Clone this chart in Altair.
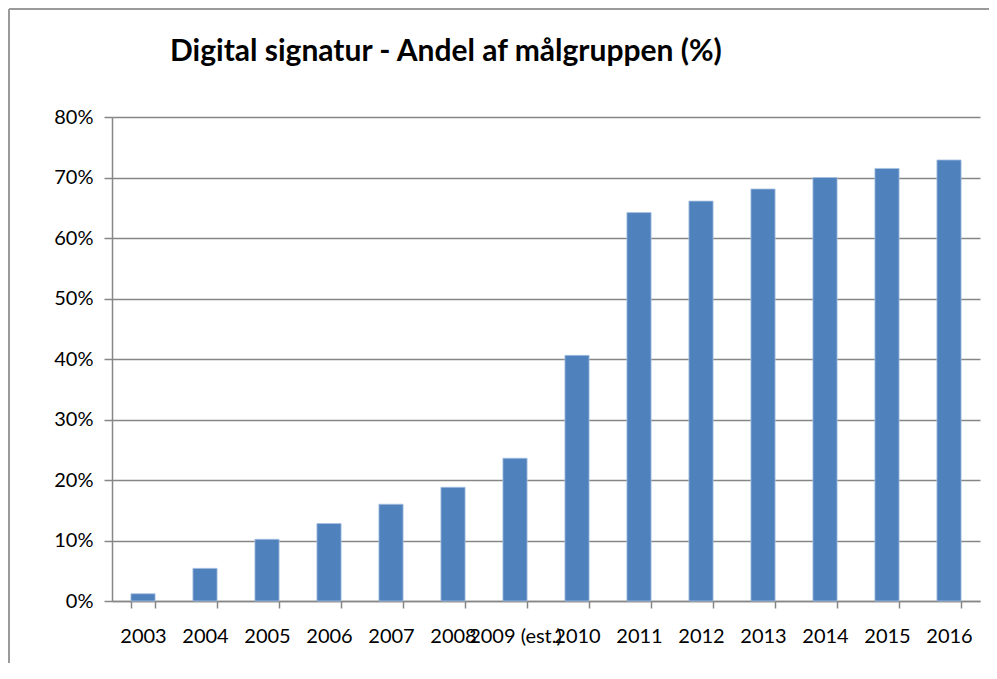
import altair as alt
import pandas as pd

years = ["2003", "2004", "2005", "2006", "2007", "2008", "2009 (est.)",
         "2010", "2011", "2012", "2013", "2014", "2015", "2016"]
shares = [1.2, 5.4, 10.2, 12.8, 16.0, 18.8, 23.6, 40.6, 64.2, 66.1, 68.1, 70.0, 71.5, 72.9]
y_ticks = [0, 10, 20, 30, 40, 50, 60, 70, 80]
title_text = "Digital signatur - Andel af målgruppen (%)"

df = pd.DataFrame({"year": years, "share": [v / 100 for v in shares]})

W, H = 868, 484
PAD_L, PAD_T, PAD_R, PAD_B = 104, 109, 9, 62
FONT = "Lato"
GRID = "#868686"

bars = alt.Chart(df).mark_bar(color="#4F81BD", stroke="#a9c1e2", strokeWidth=0.8).encode(
    x=alt.X(
        "year:N", sort=years, title=None,
        scale=alt.Scale(paddingInner=0.61, paddingOuter=0.305),
        axis=alt.Axis(labelAngle=0, tickBand="extent", tickSize=7, labelPadding=18,
                      domainColor=GRID, tickColor=GRID, domainWidth=1.5, tickWidth=1.5,
                      labelFontSize=20, labelFont=FONT, labelColor="#000",
                      labelOverlap=False, grid=False),
    ),
    y=alt.Y(
        "share:Q", title=None,
        scale=alt.Scale(domain=[0, 0.8], nice=False),
        axis=alt.Axis(format=".0%", values=[v / 100 for v in y_ticks], grid=True,
                      gridColor=GRID, gridWidth=1.5, tickSize=8, labelPadding=11,
                      domainColor=GRID, tickColor=GRID, domainWidth=1.5, tickWidth=1.5,
                      labelFontSize=20, labelFont=FONT, labelColor="#000"),
    ),
)

one = alt.Data(values=[{"k": 0}])
border_left = alt.Chart(one).mark_rule(color="#9a9a9a", strokeWidth=2).encode(
    x=alt.value(-PAD_L + 1), y=alt.value(-PAD_T + 1), y2=alt.value(H + PAD_B))
border_top = alt.Chart(one).mark_rule(color="#9a9a9a", strokeWidth=2).encode(
    x=alt.value(-PAD_L + 1), x2=alt.value(W + PAD_R), y=alt.value(-PAD_T + 1))
title = alt.Chart(one).mark_text(
    font=FONT, fontSize=30, fontWeight="bold", color="#000",
    align="left", baseline="alphabetic").encode(
    x=alt.value(58), y=alt.value(-56), text=alt.value(title_text))

chart = alt.layer(bars, border_left, border_top, title).properties(
    width=W, height=H,
    autosize=alt.AutoSizeParams(type="none"),
    padding={"left": PAD_L, "top": PAD_T, "right": PAD_R, "bottom": PAD_B},
).configure_view(strokeWidth=0)

chart.save("out.html", embed_options={"renderer": "svg", "actions": False})
